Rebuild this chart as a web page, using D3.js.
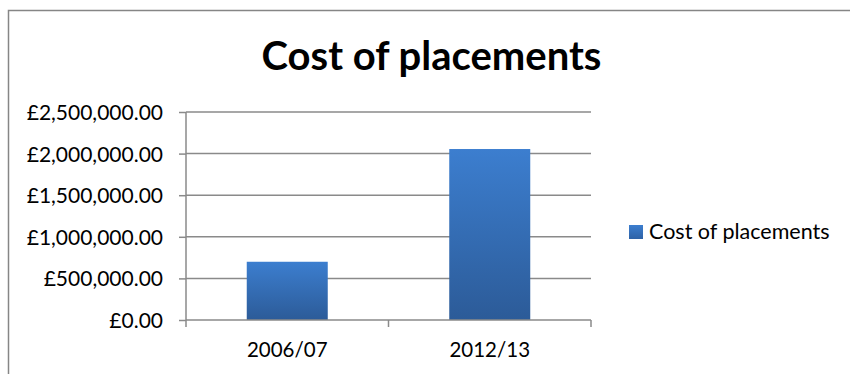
<!DOCTYPE html>
<html>
<head>
<meta charset="utf-8">
<script src="https://cdn.jsdelivr.net/npm/d3@7"></script>
<style>
  html, body { margin: 0; padding: 0; background: #fff; }
  svg { display: block; }
  text { font-family: Lato, "Open Sans", sans-serif; fill: #000; }
</style>
</head>
<body>
<svg id="chart" width="850" height="374"></svg>
<script>
const categories = ["2006/07", "2012/13"];
const seriesName = "Cost of placements";
const values = [700000, 2055000];
const yTicks = [0, 500000, 1000000, 1500000, 2000000, 2500000];
const titleText = "Cost of placements";

const svg = d3.select("#chart");
const plot = { left: 186, right: 591, top: 112, bottom: 320 };

// outer frame
svg.append("rect").attr("x", 8.5).attr("y", 10.5).attr("width", 850).attr("height", 400)
  .attr("fill", "#fff").attr("stroke", "#868686").attr("stroke-width", 1.5);

const defs = svg.append("defs");
const grad = defs.append("linearGradient").attr("id", "barGrad")
  .attr("x1", 0).attr("y1", 0).attr("x2", 0).attr("y2", 1);
grad.append("stop").attr("offset", "0%").attr("stop-color", "#3c7ecf");
grad.append("stop").attr("offset", "100%").attr("stop-color", "#2c5b98");
const sq = defs.append("linearGradient").attr("id", "sqGrad")
  .attr("x1", 0).attr("y1", 0).attr("x2", 0).attr("y2", 1);
sq.append("stop").attr("offset", "0%").attr("stop-color", "#3c7ecf");
sq.append("stop").attr("offset", "100%").attr("stop-color", "#2e62a6");

const x = d3.scaleBand().domain(categories).range([plot.left, plot.right]).paddingInner(0).paddingOuter(0);
const y = d3.scaleLinear().domain([0, 2500000]).range([plot.bottom, plot.top]);
const fmt = v => "£" + d3.format(",.2f")(v);

// gridlines
svg.append("g").selectAll("line").data(yTicks.filter(d => d > 0)).join("line")
  .attr("x1", plot.left).attr("x2", plot.right)
  .attr("y1", d => y(d)).attr("y2", d => y(d))
  .attr("stroke", "#8a8a8a").attr("stroke-width", 1.5);

// y axis
const yAxis = d3.axisLeft(y).tickValues(yTicks).tickFormat(fmt).tickSize(7).tickPadding(16);
const gy = svg.append("g").attr("transform", `translate(${plot.left},0)`).call(yAxis);
gy.select(".domain").attr("stroke", "#8a8a8a").attr("stroke-width", 1.5)
  .attr("d", `M0,${plot.top}V${plot.bottom}`);
gy.selectAll(".tick line").attr("stroke", "#8a8a8a").attr("stroke-width", 1.5);
gy.selectAll(".tick text").attr("font-size", 21).attr("font-family", "Lato, sans-serif").attr("fill", "#000").attr("dy", "0.36em");

// bars
const bw = x.bandwidth() / 2.5;
svg.append("g").selectAll("rect").data(values).join("rect")
  .attr("x", (d, i) => x(categories[i]) + (x.bandwidth() - bw) / 2)
  .attr("width", bw)
  .attr("y", d => y(d))
  .attr("height", d => y(0) - y(d))
  .attr("fill", "url(#barGrad)");

// x axis
const xAxis = d3.axisBottom(x).tickSize(0).tickPadding(0);
const gx = svg.append("g").attr("transform", `translate(0,${plot.bottom})`).call(xAxis);
gx.select(".domain").remove();
gx.selectAll(".tick text").attr("font-size", 20.5).attr("font-family", "Lato, sans-serif").attr("fill", "#000")
  .attr("dy", 0).attr("y", 37);
svg.append("line").attr("x1", plot.left).attr("x2", plot.right).attr("y1", plot.bottom).attr("y2", plot.bottom)
  .attr("stroke", "#8a8a8a").attr("stroke-width", 1.5);
// category boundary ticks
const bounds = [plot.left, x(categories[1]), plot.right];
svg.append("g").selectAll("line").data(bounds).join("line")
  .attr("x1", d => d).attr("x2", d => d).attr("y1", plot.bottom).attr("y2", plot.bottom + 7)
  .attr("stroke", "#8a8a8a").attr("stroke-width", 1.5);

// title
svg.append("text").attr("x", 431.5).attr("y", 70).attr("text-anchor", "middle")
  .attr("font-size", 40).attr("font-weight", "bold").attr("font-family", "Lato, sans-serif")
  .text(titleText);

// legend
svg.append("rect").attr("x", 629).attr("y", 225).attr("width", 14).attr("height", 14).attr("fill", "url(#sqGrad)");
svg.append("text").attr("x", 649).attr("y", 239).attr("font-size", 21.5).attr("font-family", "Lato, sans-serif")
  .text(seriesName);
</script>
</body>
</html>
